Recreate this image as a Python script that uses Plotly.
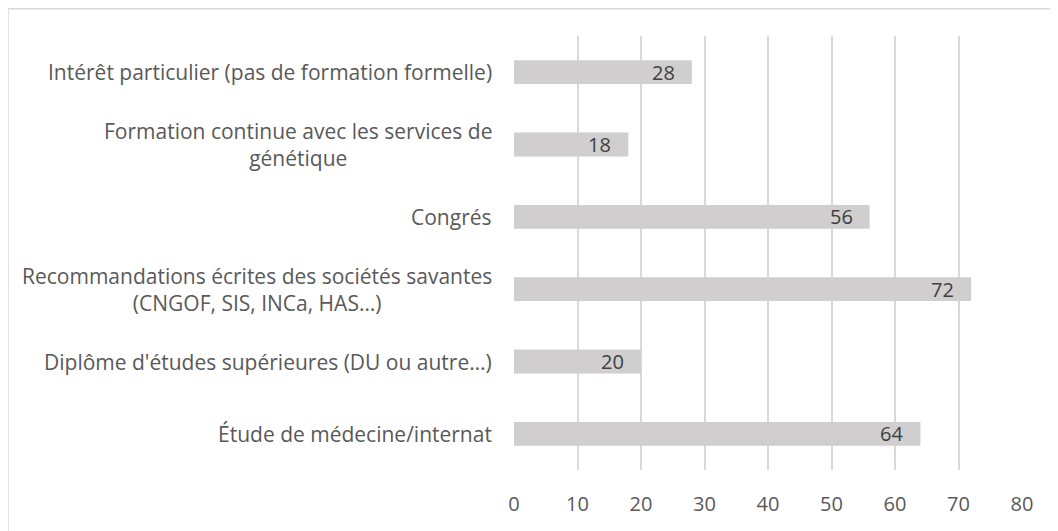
import plotly.graph_objects as go

categories = [
    "Intérêt particulier (pas de formation formelle)",
    "Formation continue avec les services de<br>génétique",
    "Congrés",
    "Recommandations écrites des sociétés savantes<br>(CNGOF, SIS, INCa, HAS…)",
    "Diplôme d'études supérieures (DU ou autre…)",
    "Étude de médecine/internat",
]
values = [28, 18, 56, 72, 20, 64]
x_ticks = [0, 10, 20, 30, 40, 50, 60, 70, 80]

TEXT = "#595959"
FONT = "Open Sans"
FS = 20

fig = go.Figure()
fig.add_trace(go.Bar(
    x=values, y=categories, orientation="h",
    marker=dict(color="#d0cecf", line=dict(width=0)),
    width=0.33, hoverinfo="skip",
))

for c, v in zip(categories, values):
    fig.add_annotation(x=v, y=c, text=str(v), showarrow=False, xanchor="right",
                       xshift=-15, font=dict(family=FONT, size=FS, color="#404040"))
    fig.add_annotation(x=0, y=c, text=c, showarrow=False, xanchor="right", align="center",
                       xshift=-20, font=dict(family=FONT, size=21, color=TEXT))

fig.add_shape(type="rect", xref="paper", yref="paper", x0=-0.996, x1=1.2, y0=-0.3, y1=1.063,
              line=dict(color="#d9d9d9", width=1.5), layer="below")

fig.update_layout(
    width=1050, height=523,
    margin=dict(l=506, r=36, t=28, b=61),
    plot_bgcolor="white", paper_bgcolor="white",
    showlegend=False,
    font=dict(family=FONT, size=FS, color=TEXT),
    xaxis=dict(range=[0, 80], tickvals=x_ticks, showgrid=True, gridcolor="#d9d9d9",
               gridwidth=1.5, zeroline=False, showline=False, ticks="",
               ticklabelstandoff=20, tickfont=dict(family=FONT, size=FS, color=TEXT),
               fixedrange=True),
    yaxis=dict(categoryorder="array", categoryarray=categories[::-1], showticklabels=False,
               showgrid=False, zeroline=False, showline=False, ticks="",
               range=[-0.5, 5.5], fixedrange=True),
)

fig.write_html("out.html")
